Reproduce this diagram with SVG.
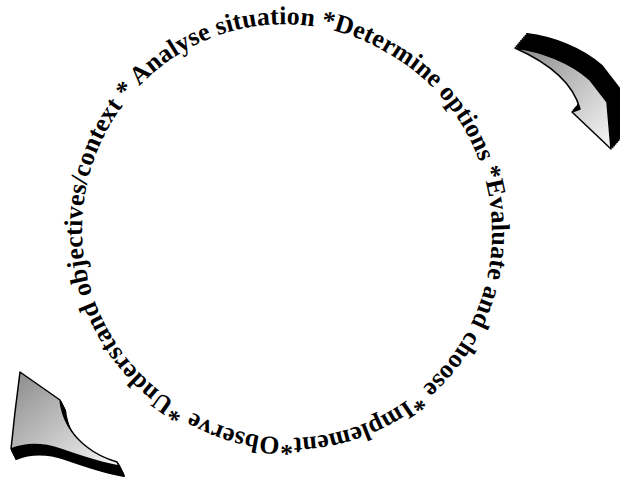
<svg xmlns="http://www.w3.org/2000/svg" width="620" height="481" viewBox="0 0 620 481">
  <style>
    .ring { font-family: "Liberation Serif", "Times New Roman", serif; font-weight: bold; font-size: 25.8px; letter-spacing: 0.12px; fill: #000; }
    .face { fill: url(#shade); stroke: #000; stroke-width: 1.5; stroke-linejoin: round; }
    .side { fill: #000; stroke: #000; stroke-width: 2; stroke-linejoin: round; }
  </style>
  <defs>
    <path id="ringPath" d="M186,408.5 A202,205 0 1 1 388,53.5 A202,205 0 1 1 186,408.5"/>
    <linearGradient id="shade" x1="0" y1="0" x2="1" y2="1">
      <stop offset="0" stop-color="#8a8a8a"/>
      <stop offset="0.5" stop-color="#c0c0c0"/>
      <stop offset="1" stop-color="#f8f8f8"/>
    </linearGradient>
    <path id="arrowTR" d="M515,48 C540,51 570,62 590,80 L607,102 L611,149 L572,112 L580,109 C575,90 560,68 515,48 Z"/>
    <path id="arrowBL" d="M20,372 L60,400 C62,418 70,434 87,447 C97,455 107,459 117,462 L119,466 C100,463 80,456 60,449 C42,443 26,443 11,449 L15,412 Z"/>
  </defs>
  <rect width="620" height="481" fill="#fff"/>
  <g id="cycle-text">
    <text class="ring"><textPath href="#ringPath" startOffset="0">*Understand objectives/context * Analyse situation *Determine options *Evaluate and choose *Implement*Observe</textPath></text>
  </g>
  <g id="connectors">
    <g id="arrow-top-right">
      <use href="#arrowTR" class="side" transform="translate(1.5,-1.75)"/>
      <use href="#arrowTR" class="side" transform="translate(3,-3.5)"/>
      <use href="#arrowTR" class="side" transform="translate(4.5,-5.25)"/>
      <use href="#arrowTR" class="side" transform="translate(6,-7)"/>
      <use href="#arrowTR" class="side" transform="translate(7.5,-8.75)"/>
      <use href="#arrowTR" class="side" transform="translate(9,-10.5)"/>
      <use href="#arrowTR" class="side" transform="translate(10.5,-12.25)"/>
      <use href="#arrowTR" class="side" transform="translate(12,-14)"/>
      <use href="#arrowTR" class="face"/>
    </g>
    <g id="arrow-bottom-left">
      <use href="#arrowBL" class="side" transform="translate(1,2)"/>
      <use href="#arrowBL" class="side" transform="translate(2,4)"/>
      <use href="#arrowBL" class="side" transform="translate(3,6)"/>
      <use href="#arrowBL" class="side" transform="translate(4,8)"/>
      <use href="#arrowBL" class="side" transform="translate(5,10)"/>
      <use href="#arrowBL" class="face"/>
    </g>
  </g>
</svg>
